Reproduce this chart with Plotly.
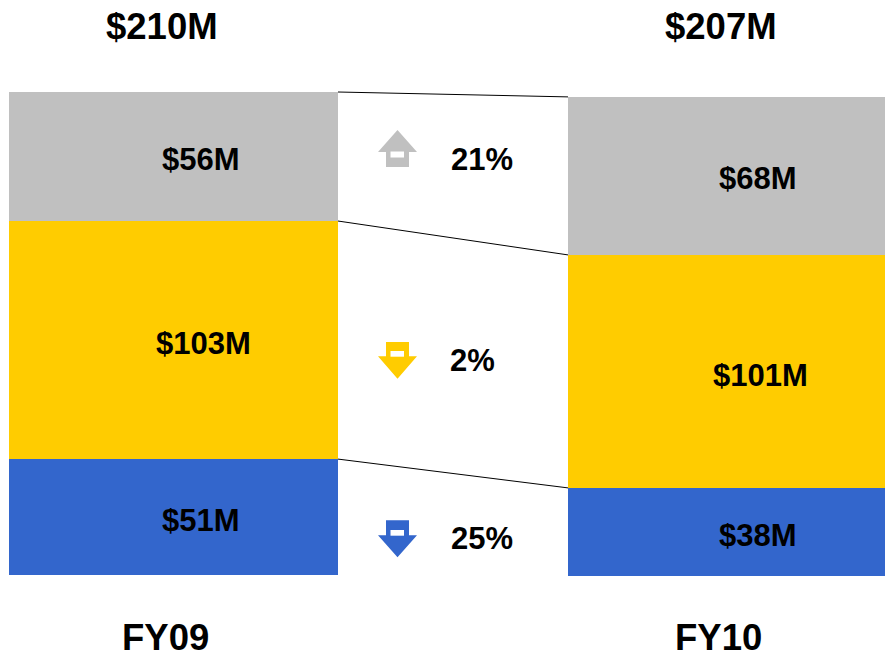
import numpy as np
import plotly.graph_objects as go

W, H = 885, 654
PX_PER_UNIT = 2.3
ZERO_PX = 575

years = ["FY09", "FY10"]
segments = ["Blue", "Yellow", "Gray"]
colors = ["#3366CC", "#FFCC00", "#C0C0C0"]
# segment heights in $M
heights_fy09 = [50.4, 103.5, 56.1]
heights_fy10 = [38.3, 101.3, 68.7]
base_fy = [0.0, -0.43]

labels_fy09 = ["$51M", "$103M", "$56M"]
labels_fy10 = ["$38M", "$101M", "$68M"]
totals = ["$210M", "$207M"]
changes = ["25%", "2%", "21%"]

bar_left = [9, 568]
bar_right = [338, 885]

def ypx(p):
    return (ZERO_PX - p) / PX_PER_UNIT

def pap(p):
    return 1 - p / H

stack = np.array([heights_fy09, heights_fy10])
starts = np.hstack([np.zeros((2, 1)), np.cumsum(stack, axis=1)[:, :-1]]) + np.array(base_fy)[:, None]
ends = starts + stack
centers = [(a + b) / 2 for a, b in zip(bar_left, bar_right)]
widths = [b - a for a, b in zip(bar_left, bar_right)]

fig = go.Figure()
for i, (name, col) in enumerate(zip(segments, colors)):
    fig.add_trace(go.Bar(x=centers, y=stack[:, i], base=starts[:, i], width=widths,
                         marker=dict(color=col, line=dict(width=0)), name=name,
                         showlegend=False, hoverinfo="skip"))
    fig.add_trace(go.Scatter(x=[bar_right[0], bar_left[1]], y=[ends[0, i], ends[1, i]], mode="lines",
                             line=dict(color="#000000", width=1), showlegend=False, hoverinfo="skip"))

def text(s, x, y, size):
    fig.add_annotation(text=s, x=x, y=pap(y), xref="x", yref="paper", showarrow=False,
                       xanchor="center", yanchor="middle",
                       font=dict(family="Liberation Sans", size=size, color="#000000"))

BIG, MID = 36.5, 31
bold = lambda s: f"<b>{s}</b>"
text(bold(totals[0]), 162, 27, BIG)
text(bold(totals[1]), 721, 27, BIG)
text(bold(years[0]), 165, 637, BIG)
text(bold(years[1]), 718, 637, BIG)
for s, x, y in zip(labels_fy09, [201, 203, 201], [520, 343, 160]):
    text(bold(s), x, y, MID)
for s, x, y in zip(labels_fy10, [757.5, 760, 757.5], [535.5, 375, 179]):
    text(bold(s), x, y, MID)
for s, x, y in zip(changes, [481.5, 472.5, 481.5], [538, 360, 160]):
    text(bold(s), x, y, MID)

def poly(pts, color):
    path = "M " + " L ".join(f"{x},{pap(y):.5f}" for x, y in pts) + " Z"
    fig.add_shape(type="path", path=path, xref="x", yref="paper", fillcolor=color,
                  line=dict(width=0), layer="above")

def arrow(color, body_end, wing, tip, hole_a, hole_b):
    poly([(386, body_end), (409, body_end), (409, wing), (417, wing), (397.5, tip),
          (378, wing), (386, wing)], color)
    poly([(390.5, hole_a), (404, hole_a), (404, hole_b), (390.5, hole_b)], "#FFFFFF")

arrow(colors[2], 167, 152, 130, 151.5, 157.5)
arrow(colors[1], 342, 356.3, 378.7, 351, 356.7)
arrow(colors[0], 520.3, 535.3, 557.3, 530, 535.7)

fig.update_layout(width=W, height=H, margin=dict(l=0, r=0, t=0, b=0), barmode="overlay",
                  plot_bgcolor="white", paper_bgcolor="white", showlegend=False,
                  xaxis=dict(range=[0, W], visible=False, fixedrange=True),
                  yaxis=dict(range=[ypx(H), ypx(0)], visible=False, fixedrange=True))
fig.write_html("out.html", config={"displayModeBar": False},
               post_script="document.body.style.margin='0';")
